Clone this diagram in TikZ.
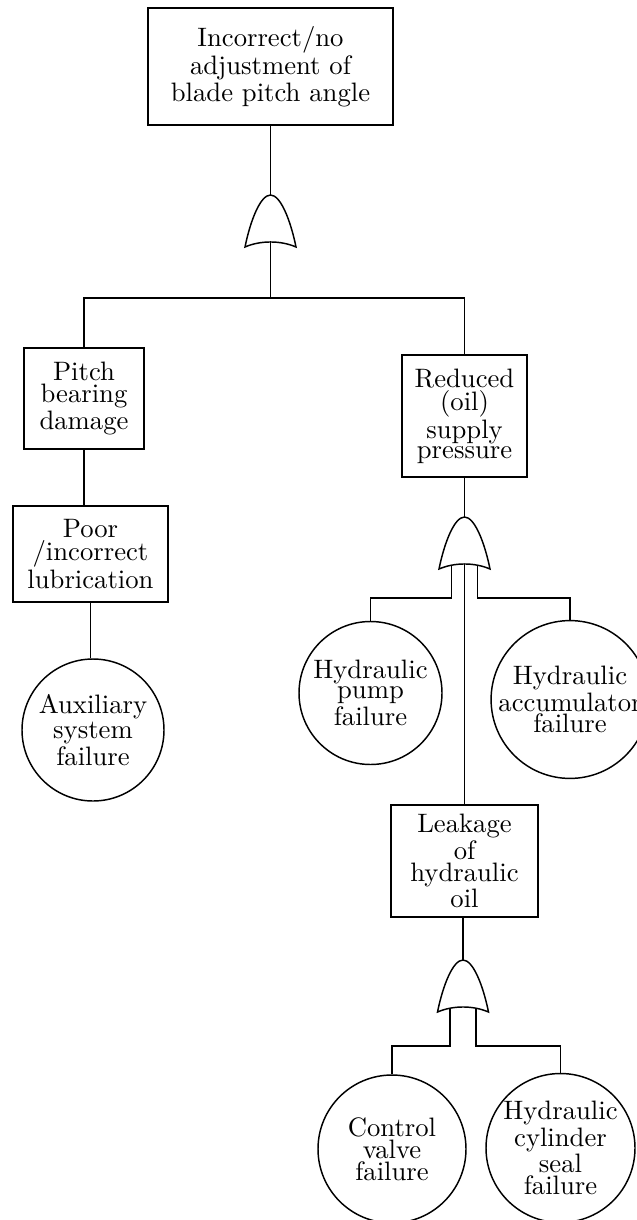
\documentclass[tikz,border=0pt]{standalone}
\usetikzlibrary{backgrounds}
\begin{document}
\begin{tikzpicture}[x=0.375pt,y=-0.375pt,line width=0.55pt,
  event/.style={draw,rectangle,align=center,inner sep=0pt,font=\fontsize{10}{1}\selectfont},
  basic/.style={draw,circle,align=center,inner sep=0pt,font=\fontsize{10}{1}\selectfont},
  orgate/.pic={
    \filldraw[fill=white] (-25.5,52) .. controls (-20,25) and (-10,0) .. (0,0)
      .. controls (10,0) and (20,25) .. (25.5,52)
      .. controls (10,45.3) and (-10,45.3) .. cycle;
    \coordinate (-top) at (0,0);
    \coordinate (-in) at (0,44);
    \coordinate (-l) at (-13,44);
    \coordinate (-r) at (13,44);
  }]
\useasboundingbox (0,0) rectangle (637,1220);

% events
\node[event,minimum width=91.875pt,minimum height=43.875pt] (top) at (270.5,66.5)
  {Incorrect/no\\adjustment of\\blade pitch angle};
\node[event,minimum width=45pt,minimum height=37.875pt] (pitch) at (84,398.5)
  {Pitch\\bearing\\damage};
\node[event,minimum width=58.125pt,minimum height=36pt] (poor) at (90.5,554)
  {Poor\\/incorrect\\lubrication};
\node[event,minimum width=46.875pt,minimum height=45.75pt] (reduced) at (464.5,416)
  {Reduced\\(oil)\\supply\\pressure};
\node[event,minimum width=55.125pt,minimum height=42pt] (leak) at (464.5,861)
  {Leakage\\of\\hydraulic\\oil};

% basic events
\node[basic,minimum size=53.25pt] (aux) at (93,730) {Auxiliary\\system\\failure};
\node[basic,minimum size=53.625pt] (pump) at (370.5,693) {Hydraulic\\pump\\failure};
\node[basic,minimum size=58.875pt] (accum) at (570,699.5) {Hydraulic\\accumulator\\failure};
\node[basic,minimum size=55.5pt] (valve) at (392,1149) {Control\\valve\\failure};
\node[basic,minimum size=55.875pt] (seal) at (560.5,1148) {Hydraulic\\cylinder\\seal\\failure};

% OR gates
\pic (g1) at (270.5,195) {orgate};
\pic (g2) at (464.5,517) {orgate};
\pic (g3) at (463,960) {orgate};

% bus levels
\coordinate (bus1) at (270.5,298);
\coordinate (bus2) at (464.5,598);
\coordinate (bus3) at (463,1046);

\begin{scope}[on background layer]
  \draw (top.south) -- (g1-top);
  \draw (g1-in) -- (bus1);
  \draw (pitch.north) |- (bus1) -| (reduced.north);
  \draw (pitch.south) -- (pitch.south |- poor.north);
  \draw (poor.south) -- (poor.south |- aux.north);
  \draw (reduced.south) -- (g2-top);
  \draw (g2-l) |- (bus2 -| pump.north) -- (pump.north);
  \draw (g2-r) |- (bus2 -| accum.north) -- (accum.north);
  \draw (g2-in) -- (leak.north);
  \draw (g3-top |- leak.south) -- (g3-top);
  \draw (g3-l) |- (bus3 -| valve.north) -- (valve.north);
  \draw (g3-r) |- (bus3 -| seal.north) -- (seal.north);
\end{scope}
\end{tikzpicture}
\end{document}
